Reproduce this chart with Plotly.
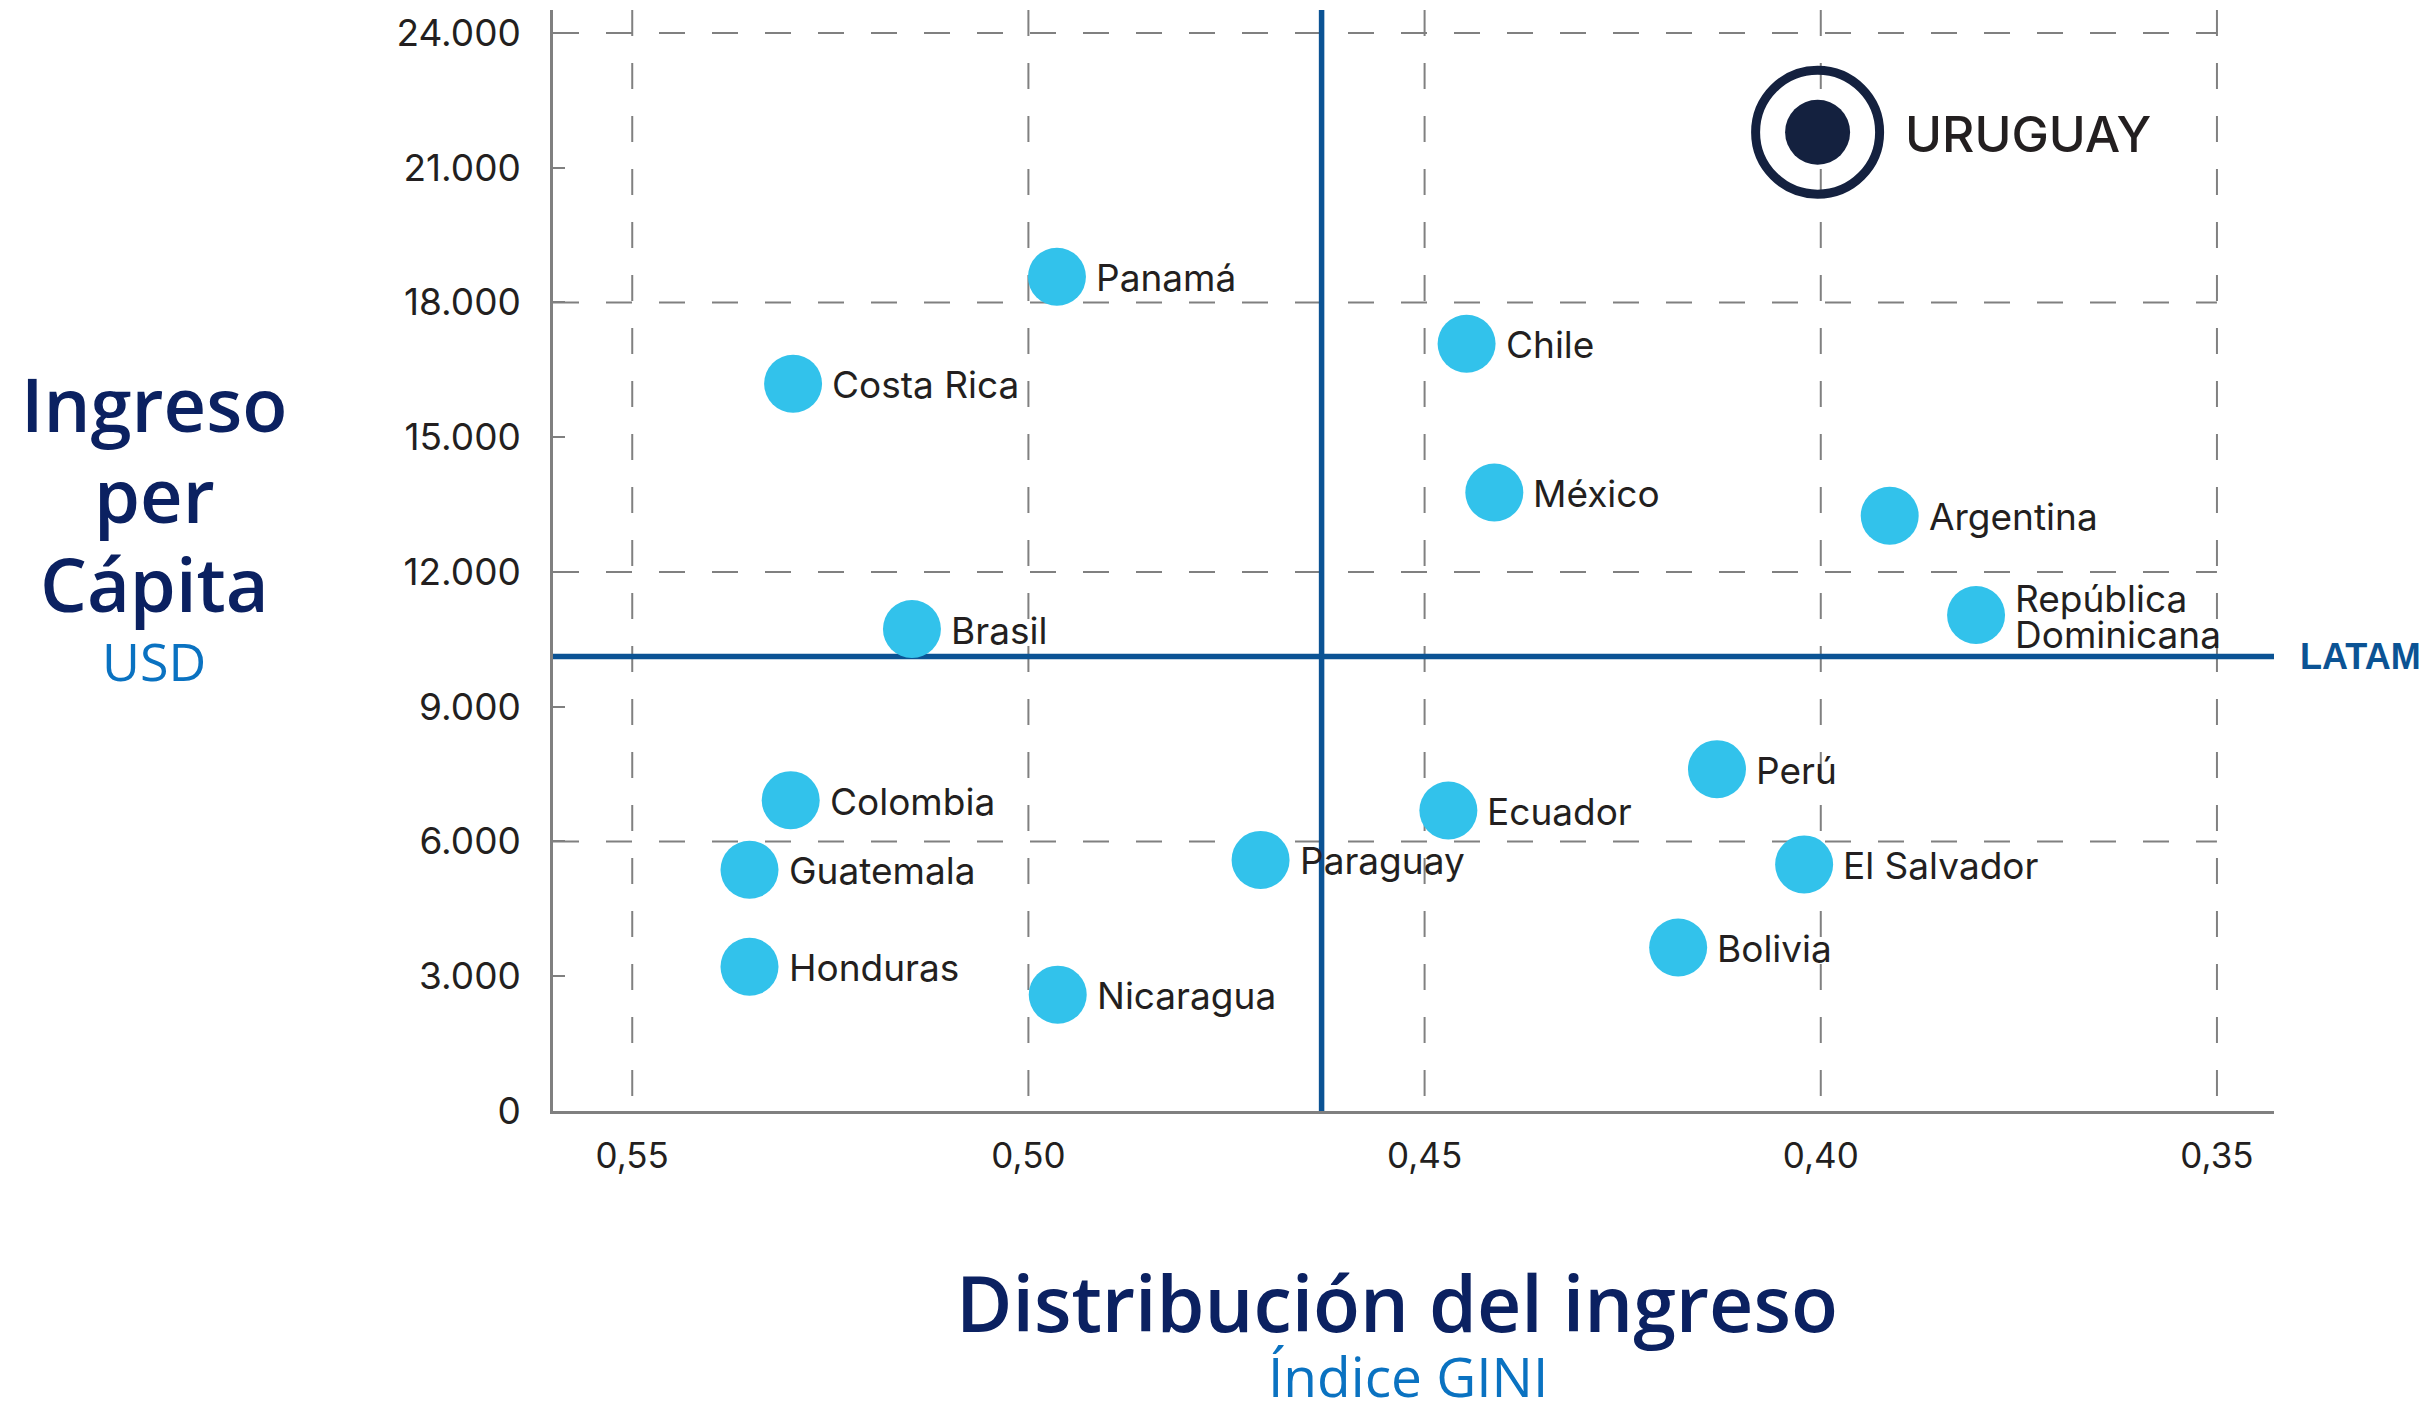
import plotly.graph_objects as go

# --- Datos: índice GINI (eje X, invertido) e ingreso per cápita en USD (eje Y) ---
PAISES = ["Panamá", "Costa Rica", "Chile", "México", "Argentina",
          "República Dominicana", "Brasil", "Perú", "Colombia", "Ecuador",
          "Paraguay", "Guatemala", "El Salvador", "Bolivia", "Honduras",
          "Nicaragua"]
GINI = [0.4964, 0.5297, 0.4447, 0.4412, 0.3913,
        0.3804, 0.5147, 0.4131, 0.5300, 0.4470,
        0.4707, 0.5352, 0.4021, 0.4180, 0.5352,
        0.4963]
INGRESO = [18570, 16190, 17080, 13770, 13250,
           11040, 10730, 7610, 6920, 6690,
           5590, 5370, 5490, 3640, 3210,
           2590]

URUGUAY_NOMBRE = "URUGUAY"
URUGUAY_GINI = 0.4004
URUGUAY_INGRESO = 21790

LATAM_NOMBRE = "LATAM"
LATAM_GINI = 0.4630
LATAM_INGRESO = 10120

Y_TICKS = [0, 3000, 6000, 9000, 12000, 15000, 18000, 21000, 24000]
Y_GRID = [6000, 12000, 18000, 24000]
X_TICKS = [0.55, 0.50, 0.45, 0.40, 0.35]
X_RANGE = [0.560, 0.3428]
Y_MAX = 24510

# --- Estilos ---
CYAN = "#32c2eb"
NAVY = "#14213f"
LATAM_BLUE = "#0b5394"
GRID = "#808080"
TEXT = "#231f20"
TITLE = "#0b2161"
SUBTITLE = "#0a72c1"
LABEL_FONT = "Inter"
TITLE_FONT = "Open Sans"

W, H = 2435, 1406
PLOT_L, PLOT_R, PLOT_T, PLOT_B = 553, 2274, 10, 1111


def paper_x(px):
    return (px - PLOT_L) / (PLOT_R - PLOT_L)


def paper_y(py):
    return (PLOT_B - py) / (PLOT_B - PLOT_T)


fig = go.Figure()

# Países
fig.add_trace(go.Scatter(
    x=GINI, y=INGRESO, mode="markers",
    marker=dict(size=58, color=CYAN, line=dict(width=0)),
    hoverinfo="skip", showlegend=False,
))

# Uruguay: punto con anillo
fig.add_trace(go.Scatter(
    x=[URUGUAY_GINI], y=[URUGUAY_INGRESO], mode="markers",
    marker=dict(symbol="circle-open", size=124, color=NAVY, line=dict(width=9)),
    hoverinfo="skip", showlegend=False,
))
fig.add_trace(go.Scatter(
    x=[URUGUAY_GINI], y=[URUGUAY_INGRESO], mode="markers",
    marker=dict(size=65, color=NAVY, line=dict(width=0)),
    hoverinfo="skip", showlegend=False,
))

# Líneas de cuadrícula discontinuas y líneas de referencia LATAM
shapes = []
for yv in Y_GRID:
    shapes.append(dict(type="line", xref="x", yref="y",
                       x0=X_RANGE[0], x1=X_TICKS[-1], y0=yv, y1=yv,
                       line=dict(color=GRID, width=2, dash="26px,27px"),
                       layer="below"))
for xv in X_TICKS:
    shapes.append(dict(type="line", xref="x", yref="y",
                       x0=xv, x1=xv, y0=Y_MAX, y1=0,
                       line=dict(color=GRID, width=2, dash="26px,27px"),
                       layer="below"))
shapes.append(dict(type="line", xref="x", yref="y",
                   x0=LATAM_GINI, x1=LATAM_GINI, y0=0, y1=Y_MAX,
                   line=dict(color=LATAM_BLUE, width=5.5), layer="below"))
shapes.append(dict(type="line", xref="x", yref="y",
                   x0=X_RANGE[0], x1=X_RANGE[1],
                   y0=LATAM_INGRESO, y1=LATAM_INGRESO,
                   line=dict(color=LATAM_BLUE, width=5.5), layer="below"))

annotations = []
label_font = dict(family=LABEL_FONT, size=37, color=TEXT)

# Etiquetas de países (República Dominicana en dos líneas)
for nombre, gx, iy in zip(PAISES, GINI, INGRESO):
    lineas = nombre.split(" ") if nombre == "República Dominicana" else [nombre]
    n = len(lineas)
    for j, linea in enumerate(lineas):
        annotations.append(dict(
            x=gx, y=iy, xref="x", yref="y", text=linea, showarrow=False,
            xanchor="left", yanchor="middle", xshift=37,
            yshift=((n - 1) / 2 - j) * 36 - 1,
            font=label_font,
        ))

annotations.append(dict(
    x=URUGUAY_GINI, y=URUGUAY_INGRESO, xref="x", yref="y",
    text=URUGUAY_NOMBRE, showarrow=False, xanchor="left", yanchor="middle",
    xshift=85, yshift=-2,
    font=dict(family=LABEL_FONT, size=50, color=TEXT, weight=500),
))

annotations.append(dict(
    x=1, y=LATAM_INGRESO, xref="paper", yref="y", text=LATAM_NOMBRE,
    showarrow=False, xanchor="left", yanchor="middle", xshift=24, yshift=0,
    font=dict(family="Liberation Sans", size=36, color=LATAM_BLUE, weight="bold"),
))

# Títulos de los ejes
titulo_y = [("Ingreso", 404), ("per", 494), ("Cápita", 584)]
for texto, py in titulo_y:
    annotations.append(dict(
        x=paper_x(154), y=paper_y(py), xref="paper", yref="paper",
        text=texto, showarrow=False, xanchor="center", yanchor="middle",
        font=dict(family=TITLE_FONT, size=74, color=TITLE, weight=600),
    ))
annotations.append(dict(
    x=paper_x(154), y=paper_y(660), xref="paper", yref="paper",
    text="USD", showarrow=False, xanchor="center", yanchor="middle",
    font=dict(family=TITLE_FONT, size=52, color=SUBTITLE, weight=500),
))
annotations.append(dict(
    x=paper_x(1397), y=paper_y(1302), xref="paper", yref="paper",
    text="Distribución del ingreso", showarrow=False,
    xanchor="center", yanchor="middle",
    font=dict(family=TITLE_FONT, size=77, color=TITLE, weight=600),
))
annotations.append(dict(
    x=paper_x(1408), y=paper_y(1375), xref="paper", yref="paper",
    text="Índice GINI", showarrow=False, xanchor="center", yanchor="middle",
    font=dict(family=TITLE_FONT, size=55, color=SUBTITLE, weight=500),
))

fig.update_layout(
    width=W, height=H,
    margin=dict(l=PLOT_L, r=W - PLOT_R, t=PLOT_T, b=H - PLOT_B),
    paper_bgcolor="white", plot_bgcolor="white",
    separators=",.",
    showlegend=False,
    shapes=shapes,
    annotations=annotations,
    xaxis=dict(
        range=X_RANGE, tickvals=X_TICKS, tickformat=".2f",
        showgrid=False, zeroline=False,
        showline=True, linecolor=GRID, linewidth=2.5,
        ticks="", ticklabelstandoff=12,
        tickfont=dict(family=LABEL_FONT, size=35, color=TEXT),
        fixedrange=True,
    ),
    yaxis=dict(
        range=[0, Y_MAX], tickvals=Y_TICKS, tickformat=",.0f",
        showgrid=False, zeroline=False,
        showline=True, linecolor=GRID, linewidth=2.5,
        ticks="inside", ticklen=12, tickwidth=2, tickcolor=GRID,
        ticklabelstandoff=22,
        tickfont=dict(family=LABEL_FONT, size=37, color=TEXT),
        fixedrange=True,
    ),
)

fig.write_html("out.html")
